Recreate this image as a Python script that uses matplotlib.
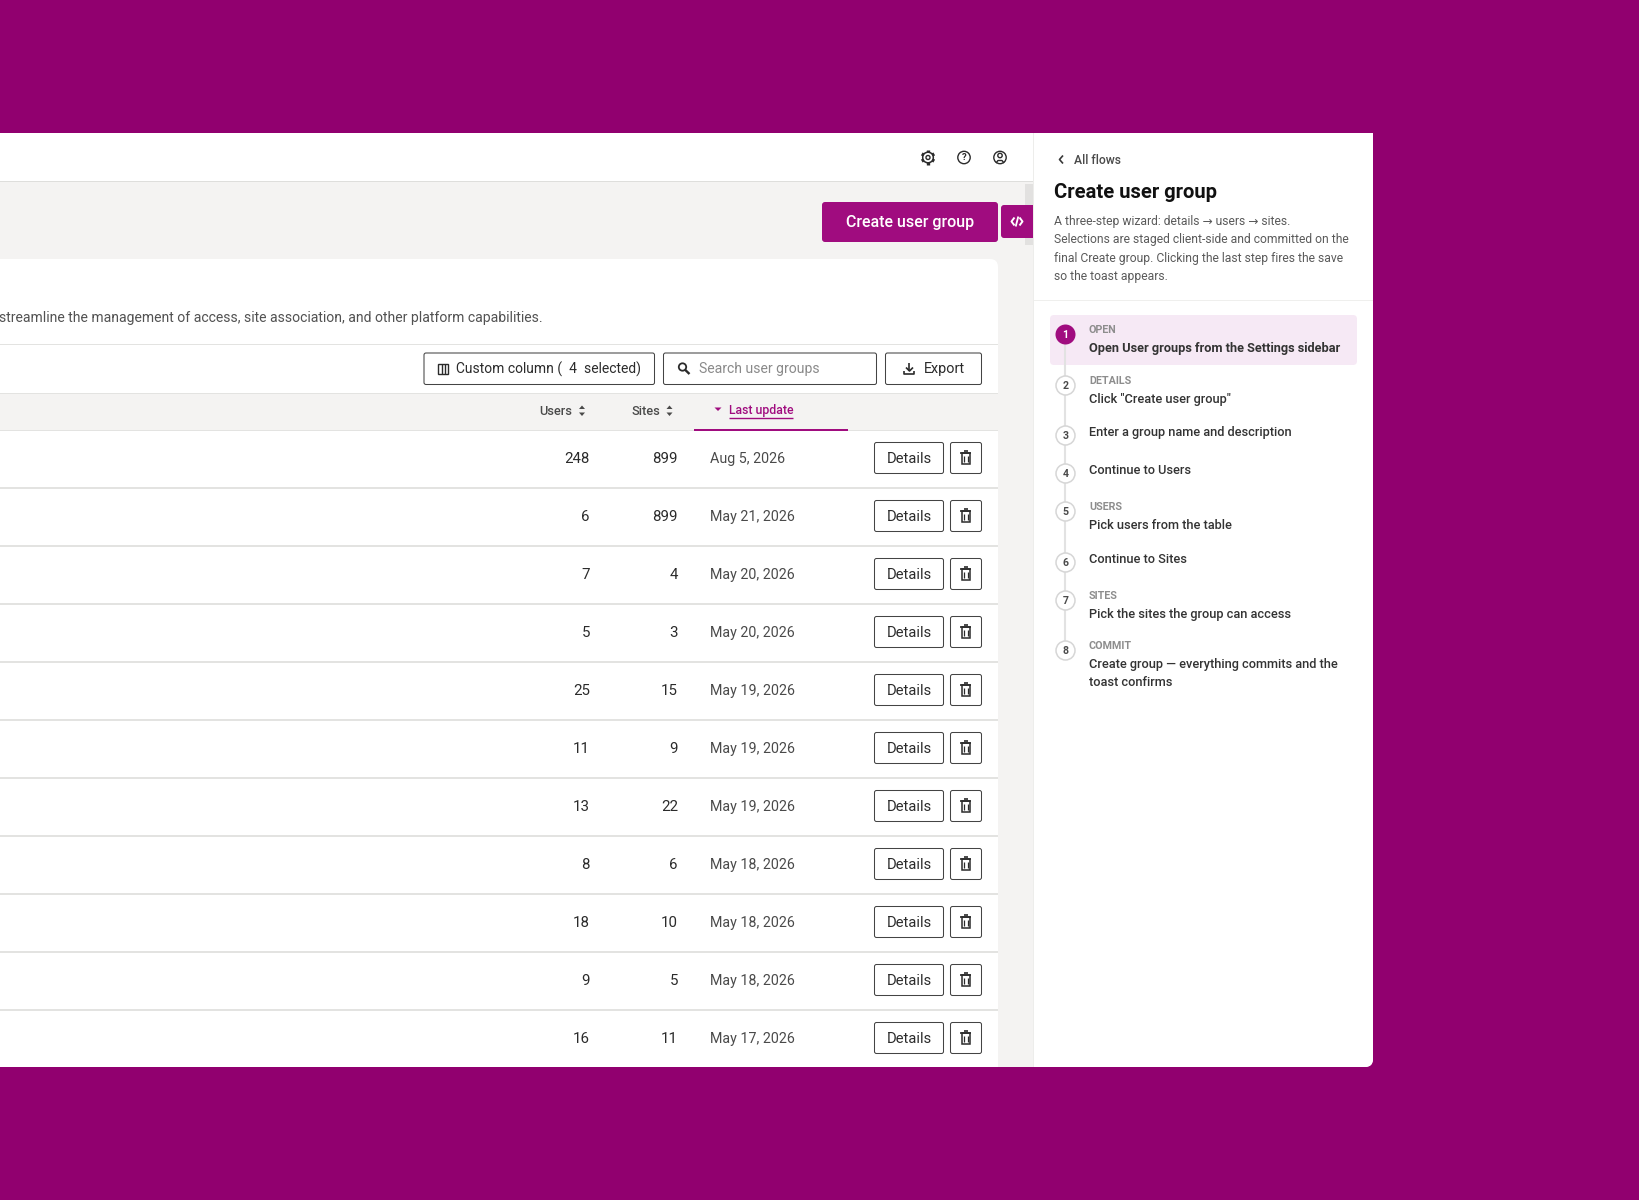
import matplotlib
matplotlib.use("Agg")
import matplotlib.pyplot as plt
from matplotlib.patches import FancyBboxPatch, Rectangle, Circle, Polygon
import numpy as np

plt.rcParams['font.family'] = ['Roboto', 'DejaVu Sans']

users = [248, 6, 7, 5, 25, 11, 13, 8, 18, 9, 16]
sites = [899, 899, 4, 3, 15, 9, 22, 6, 10, 5, 11]
dates = ["Aug 5, 2026", "May 21, 2026", "May 20, 2026", "May 20, 2026", "May 19, 2026",
         "May 19, 2026", "May 19, 2026", "May 18, 2026", "May 18, 2026", "May 18, 2026", "May 17, 2026"]
desc_lines = ["A three-step wizard: details \u2192 users \u2192 sites.",
              "Selections are staged client-side and committed on the",
              "final Create group. Clicking the last step fires the save",
              "so the toast appears."]
step_eyebrows = ["OPEN", "DETAILS", "", "", "USERS", "", "SITES", "COMMIT"]
step_texts = ["Open User groups from the Settings sidebar", 'Click "Create user group"',
              "Enter a group name and description", "Continue to Users", "Pick users from the table",
              "Continue to Sites", "Pick the sites the group can access",
              "Create group \u2014 everything commits and the\ntoast confirms"]
step_y = [334.5, 385.5, 435.5, 473.5, 511.5, 562.5, 600.5, 650.5]
eyebrow_y = [329, 380, 0, 0, 506, 0, 595, 645]
text_y = [348, 399, 432, 470, 525, 559, 614, 664]

BG = "#91006F"; ACC = "#A00C7F"; GREY = "#F4F3F2"; LINE = "#E3E3E1"; INK = "#2B2B2B"; BORDER = "#444444"

fig = plt.figure(figsize=(16.4, 12), dpi=100, facecolor=BG)
ax = fig.add_axes([0, 0, 1, 1])
ax.set_xlim(0, 1640); ax.set_ylim(1200, 0); ax.axis("off")

def rect(x0, y0, x1, y1, c, z=1):
    ax.add_patch(Rectangle((x0, y0), x1 - x0, y1 - y0, fc=c, ec="none", zorder=z))
def rrect(x0, y0, x1, y1, fc, ec="none", lw=0, r=3, z=2):
    ax.add_patch(FancyBboxPatch((x0, y0), x1 - x0, y1 - y0, boxstyle=f"round,pad=0,rounding_size={r}",
                                fc=fc, ec=ec, lw=lw, zorder=z))
def T(x, y, s, px, c=INK, ha="left", w="normal", **k):
    return ax.text(x, y + 0.8, s, fontsize=px * 0.72, color=c, ha=ha, va="center", fontweight=w, zorder=6, **k)
def L(xs, ys, c=INK, lw=1.0, z=5, **k):
    ax.plot(xs, ys, color=c, lw=lw, zorder=z, solid_capstyle=k.pop("cap", "butt"), **k)

# panel
rect(-5, 133, 1373, 1050, "white", 1)
rrect(-20, 1030, 1373, 1067, "white", r=8, z=1)
rect(0, 182, 1033, 1067, GREY, 1.5)
rect(0, 180.5, 1033, 182, "#DEDEDC", 2)

# top bar icons
gx, gy = 928, 157.5
for a in np.arange(0, 360, 60):
    ca, sa = np.cos(np.radians(a + 30)), np.sin(np.radians(a + 30))
    L([gx + 4.5 * ca, gx + 7.2 * ca], [gy + 4.5 * sa, gy + 7.2 * sa], INK, 2.4)
ax.add_patch(Circle((gx, gy), 5.3, fc="white", ec=INK, lw=1.1, zorder=5))
ax.add_patch(Circle((gx, gy), 2, fc="white", ec=INK, lw=1.0, zorder=5))
ax.add_patch(Circle((964, 157.5), 6.2, fc="white", ec=INK, lw=1.0, zorder=5))
T(964, 157, "?", 9.5, INK, ha="center", w="bold")
ax.add_patch(Circle((1000, 157.5), 6.2, fc="white", ec=INK, lw=1.0, zorder=5))
ax.add_patch(Circle((1000, 155.5), 2.2, fc="white", ec=INK, lw=1.0, zorder=5))
L(np.array([996, 998, 1002, 1004]), [163, 160.5, 160.5, 163], INK, 1.0)

# actions
rrect(822, 202, 998, 242, ACC, r=3)
T(910, 222, "Create user group", 16, "white", ha="center", w="medium")
rect(1025, 184, 1033, 245, "#E2E1E0", 2)
rrect(1001, 205, 1042, 238, ACC, r=3, z=2.2)
L([1014.5, 1011.5, 1014.5], [217.5, 221.5, 225.5], "white", 1.4)
L([1019.5, 1022.5, 1019.5], [217.5, 221.5, 225.5], "white", 1.4)
L([1018.3, 1015.7], [216.5, 226.5], "white", 1.3)

# sidebar base
rect(1033, 133, 1373, 1050, "white", 2.4)
rrect(1033, 1030, 1373, 1067, "white", r=8, z=2.4)
rect(1033, 1030, 1060, 1067, "white", 2.4)
rect(1033, 133, 1034.5, 1067, "#EDEDEB", 2.5)

# card
rrect(-20, 259, 998, 1100, "white", r=8, z=1.6)
rect(0, 1067, 1030, 1110, BG, 1.7)
T(543, 317, "streamline the management of access, site association, and other platform capabilities.", 14.0,
  "#525252", ha="right")
rect(0, 343.5, 998, 345, LINE, 2)

# toolbar
for x0, x1 in [(424, 654.5), (663.5, 876.5), (885.5, 981.5)]:
    rrect(x0, 353, x1, 384.5, "white", BORDER, 0.75, r=2)
ax.add_patch(Rectangle((438.5, 364), 10, 9.5, fc="white", ec=INK, lw=1.0, zorder=5))
L([441.8, 441.8], [364, 373.5], INK, 1.0); L([445.2, 445.2], [364, 373.5], INK, 1.0)
T(456, 368.5, "Custom column (  4  selected)", 13.9, INK)
ax.add_patch(Circle((682.5, 367), 3.7, fc="white", ec=INK, lw=1.3, zorder=5))
L([685, 689.5], [369.7, 374], INK, 1.7)
T(699.5, 368.5, "Search user groups", 14.0, "#8A8A8A")
L([909.5, 909.5], [363, 370.5], INK, 1.2)
L([906, 909.5, 913], [367.5, 371, 367.5], INK, 1.2)
L([904.5, 904.5, 914.5, 914.5], [371, 374, 374, 371], INK, 1.2)
T(924, 368.5, "Export", 14.4, INK)

# header row
rect(0, 393, 998, 430, GREY, 2)
rect(0, 392.5, 998, 394, LINE, 2.1)
rect(0, 429.5, 998, 431, LINE, 2.1)
T(539, 411, "Users", 12.8, "#4A4A4A", w="medium")
T(631.5, 411, "Sites", 12.8, "#4A4A4A", w="medium")
for ax_x in (582, 669.5):
    ax.add_patch(Polygon([[ax_x - 3, 409], [ax_x + 3, 409], [ax_x, 405.5]], fc="#4A4A4A", ec="none", zorder=5))
    ax.add_patch(Polygon([[ax_x - 3, 412.5], [ax_x + 3, 412.5], [ax_x, 416]], fc="#4A4A4A", ec="none", zorder=5))
ax.add_patch(Polygon([[714.5, 407.5], [721.5, 407.5], [718, 411]], fc=ACC, ec="none", zorder=5))
T(729, 410, "Last update", 12.2, ACC, w="medium")
L([729, 793], [417.5, 417.5], ACC, 1.0)
rect(694, 428.5, 848, 431, ACC, 3)

# rows
row_h = 58
for i, (u, s, d) in enumerate(zip(users, sites, dates)):
    y = 458 + row_h * i
    T(590, y, str(u), 15, INK, ha="right")
    T(678, y, str(s), 15, INK, ha="right")
    T(710, y, d, 14.3, "#4A4A4A")
    rrect(874.5, y - 15.5, 943.5, y + 15.5, "white", BORDER, 0.75, r=2)
    T(909, y, "Details", 14.7, INK, ha="center")
    rrect(950.5, y - 15.5, 981.5, y + 15.5, "white", BORDER, 0.75, r=2)
    tx = 966
    ax.add_patch(Rectangle((tx - 4, y - 5), 8, 11, fc="white", ec=INK, lw=1.1, zorder=5))
    L([tx - 5.5, tx + 5.5], [y - 5, y - 5], INK, 1.2)
    L([tx - 2, tx + 2], [y - 6.8, y - 6.8], INK, 1.2)
    L([tx - 1.6, tx - 1.6], [y - 2.5, y + 3.5], INK, 0.9)
    L([tx + 1.6, tx + 1.6], [y - 2.5, y + 3.5], INK, 0.9)
    if i < len(users) - 1:
        rect(0, y + 29, 998, y + 30.5, LINE, 2)

# sidebar
L([1063, 1059.5, 1063], [155.5, 159.5, 163.5], "#393939", 1.2)
T(1074, 160, "All flows", 12.1, "#4A4A4A", w="medium")
T(1054, 192, "Create user group", 20.1, "#111111", w="bold")
for y, s in zip([220.5, 239, 257.5, 276], desc_lines):
    T(1054, y, s, 12.1, "#5A5A5A")
rect(1034.5, 299.5, 1373, 301, "#EFEFED", 3)
rrect(1050, 315, 1357, 365, "#F6E9F5", r=4, z=3)
L([1065.5, 1065.5], [step_y[0], step_y[-1]], "#E2E2E2", 1.5, z=3.5)
for i, (cy, ey, ty, eb, st) in enumerate(zip(step_y, eyebrow_y, text_y, step_eyebrows, step_texts)):
    if i == 0:
        ax.add_patch(Circle((1065.5, cy), 10, fc=ACC, ec="none", zorder=4))
        T(1065.5, cy, "1", 10.5, "white", ha="center", w="bold")
    else:
        ax.add_patch(Circle((1065.5, cy), 9.5, fc="white", ec="#D6D6D6", lw=1.1, zorder=4))
        T(1065.5, cy, str(i + 1), 10.5, "#4A4A4A", ha="center", w="bold")
    if eb:
        T(1089, ey, eb, 10.8, "#8D8D8D", w="bold")
    lines = st.split("\n")
    for j, ln in enumerate(lines):
        T(1089.5, ty + 18 * j, ln, 12.8, "#333333", w="bold" if i == 0 else "medium")

fig.savefig("out.png", dpi=100, facecolor=BG)
